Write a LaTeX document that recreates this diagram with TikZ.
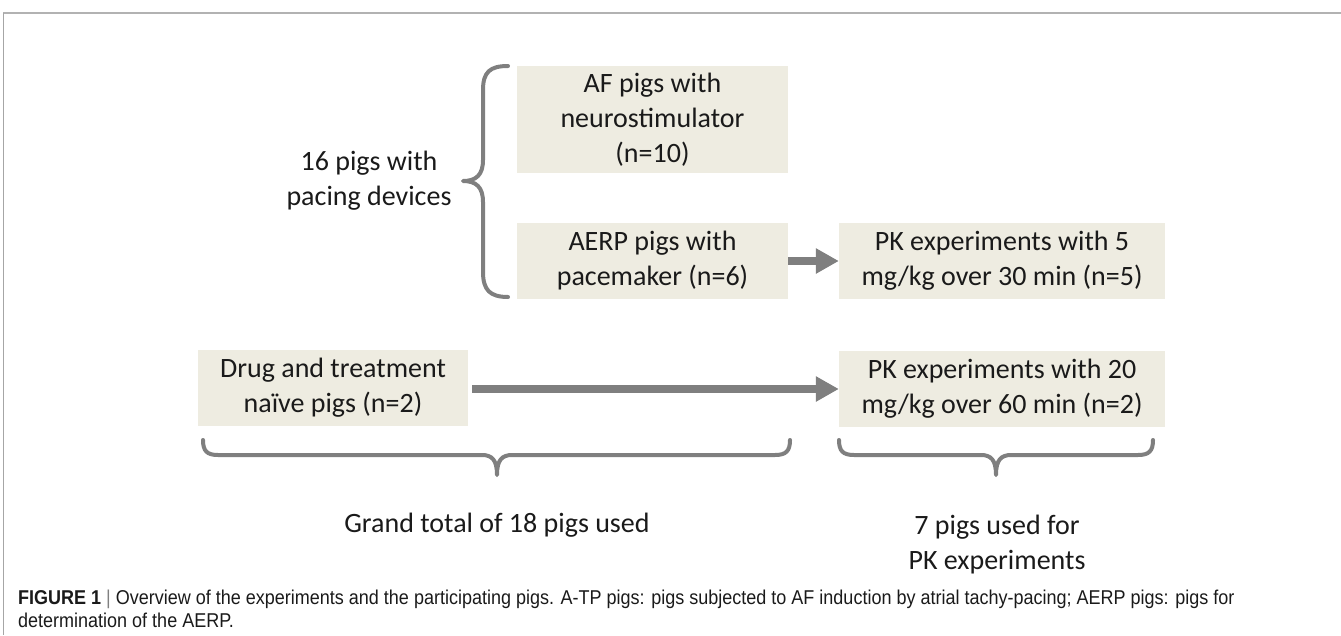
\documentclass[tikz,border=0pt]{standalone}
\usepackage{fontspec}
\setmainfont{Carlito}
\newfontfamily\capfont[FakeStretch=0.9]{Liberation Sans}
\usetikzlibrary{arrows.meta}
\definecolor{boxfill}{HTML}{EEECE1}
\definecolor{linegray}{HTML}{7F7F7F}
\definecolor{txt}{HTML}{1A1A1A}
\tikzset{
  box/.style={fill=boxfill, inner sep=0pt, align=center, text=txt, font=\fontsize{28}{35}\selectfont},
  lbl/.style={inner sep=0pt, align=center, text=txt, font=\fontsize{28}{35}\selectfont},
  brace/.style={draw=linegray, line width=4pt, line cap=round, line join=round},
  bigarrow/.style={draw=linegray, fill=linegray, line width=8pt, -{Triangle[length=23pt,width=24pt]}}
}
\begin{document}
\begin{tikzpicture}[x=1pt,y=-1pt]
\useasboundingbox (0,0) rectangle (1341,635);
% frame
\draw[draw=gray!60, line width=1.5pt] (3,13) -- (1341,13);
\draw[draw=gray!70, line width=0.8pt] (3,13) -- (3,635);
% boxes
\node[box, minimum width=271pt, minimum height=107pt] (af) at (652.5,119.5) {AF pigs with\\neurostimulator\\(n=10)};
\node[box, minimum width=271pt, minimum height=76pt] (aerp) at (652.5,261) {AERP pigs with\\pacemaker (n=6)};
\node[box, minimum width=326pt, minimum height=76pt] (pkf) at (1002,261) {PK experiments with 5\\mg/kg over 30 min (n=5)};
\node[box, minimum width=326pt, minimum height=76pt] (pkt) at (1002,389) {PK experiments with 20\\mg/kg over 60 min (n=2)};
\node[box, minimum width=270pt, minimum height=76pt] (drug) at (333,388) {Drug and treatment\\na\"ive pigs (n=2)};
% labels
\node[lbl] (sixteen) at (369,181) {16 pigs with\\pacing devices};
\node[lbl] (grand) at (497,525) {Grand total of 18 pigs used};
\node[lbl] (seven) at (997,545) {7 pigs used for\\PK experiments};
% arrows
\draw[bigarrow] (aerp.east) -- (pkf.west);
\draw[bigarrow, shorten <=4pt] (drug.east |- pkt.west) -- (pkt.west);
% left brace
\draw[brace] (508,66) .. controls (490,66) and (483,72) .. (483,90) -- (483,160)
  .. controls (483,175) and (476,181) .. (463,181)
  .. controls (476,181) and (483,187) .. (483,202) -- (483,272)
  .. controls (483,290) and (490,297) .. (508,297);
% bottom brace 1
\draw[brace] (203,440) .. controls (203,451) and (207,455) .. (218,455) -- (482,455)
  .. controls (492,455) and (497,460) .. (497,475)
  .. controls (497,460) and (502,455) .. (512,455) -- (775,455)
  .. controls (786,455) and (790,451) .. (790,440);
% bottom brace 2
\draw[brace] (839,440) .. controls (839,451) and (843,455) .. (854,455) -- (981,455)
  .. controls (991,455) and (996,460) .. (996,475)
  .. controls (996,460) and (1001,455) .. (1011,455) -- (1138,455)
  .. controls (1149,455) and (1153,451) .. (1153,440);
% caption
\node[anchor=north west, inner sep=0pt, align=left, text=txt, font=\capfont\fontsize{20}{23}\selectfont] (cap) at (18,590)
  {\textbf{FIGURE 1} {\color{gray}|} Overview of the experiments and the participating pigs. A-TP pigs: pigs subjected to AF induction by atrial tachy-pacing; AERP pigs: pigs for\\determination of the AERP.};
\end{tikzpicture}
\end{document}
